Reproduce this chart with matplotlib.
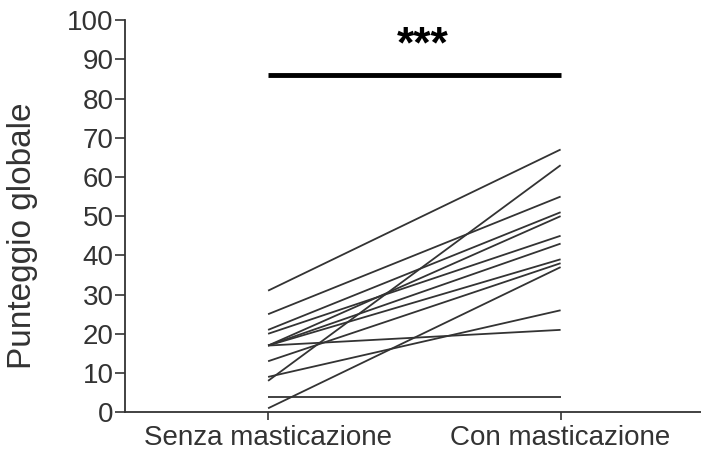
import matplotlib.pyplot as plt

plt.rcParams['font.family'] = ['Liberation Sans', 'DejaVu Sans']

categories = ['Senza masticazione', 'Con masticazione']
senza = [31, 25, 8, 21, 20, 17, 17, 17, 13, 1, 9, 17, 4]
con = [67, 55, 63, 51, 45, 50, 43, 39, 38, 37, 26, 21, 4]
y_ticks = [0, 10, 20, 30, 40, 50, 60, 70, 80, 90, 100]
signif_y = 86
signif_text = '***'

fig = plt.figure(figsize=(7.01, 4.57), dpi=100)
ax = fig.add_axes([0.178, 0.098, 0.822, 0.858])

for a, b in zip(senza, con):
    ax.plot([0, 1], [a, b], color='#333333', lw=1.3, solid_capstyle='butt')

# significance bar
ax.plot([0, 1], [signif_y, signif_y], color='black', lw=3.5, solid_capstyle='butt')
ax.text(0.53, 93.5, signif_text, ha='center', va='center', fontsize=32, fontweight='bold')

ax.set_xlim(-0.49, 1.48)
ax.set_ylim(0, 100)
ax.set_xticks([0, 1])
ax.set_xticklabels(categories, fontsize=20)
ax.set_yticks(y_ticks)
ax.tick_params(axis='y', labelsize=20, length=7, width=1.2, pad=1, colors='#333333', labelcolor='#333333')
ax.tick_params(axis='x', labelsize=20, length=6, width=1.2, pad=3, colors='#333333', labelcolor='#333333')
ax.set_ylabel('Punteggio globale', fontsize=24, color='#333333')
ax.yaxis.set_label_coords(-0.15, 0.45)

ax.spines['top'].set_visible(False)
ax.spines['right'].set_visible(False)
ax.spines['left'].set_linewidth(1.3)
ax.spines['bottom'].set_linewidth(1.3)
ax.spines['left'].set_color('#333333')
ax.spines['bottom'].set_color('#333333')

plt.savefig('out.png', dpi=100)
